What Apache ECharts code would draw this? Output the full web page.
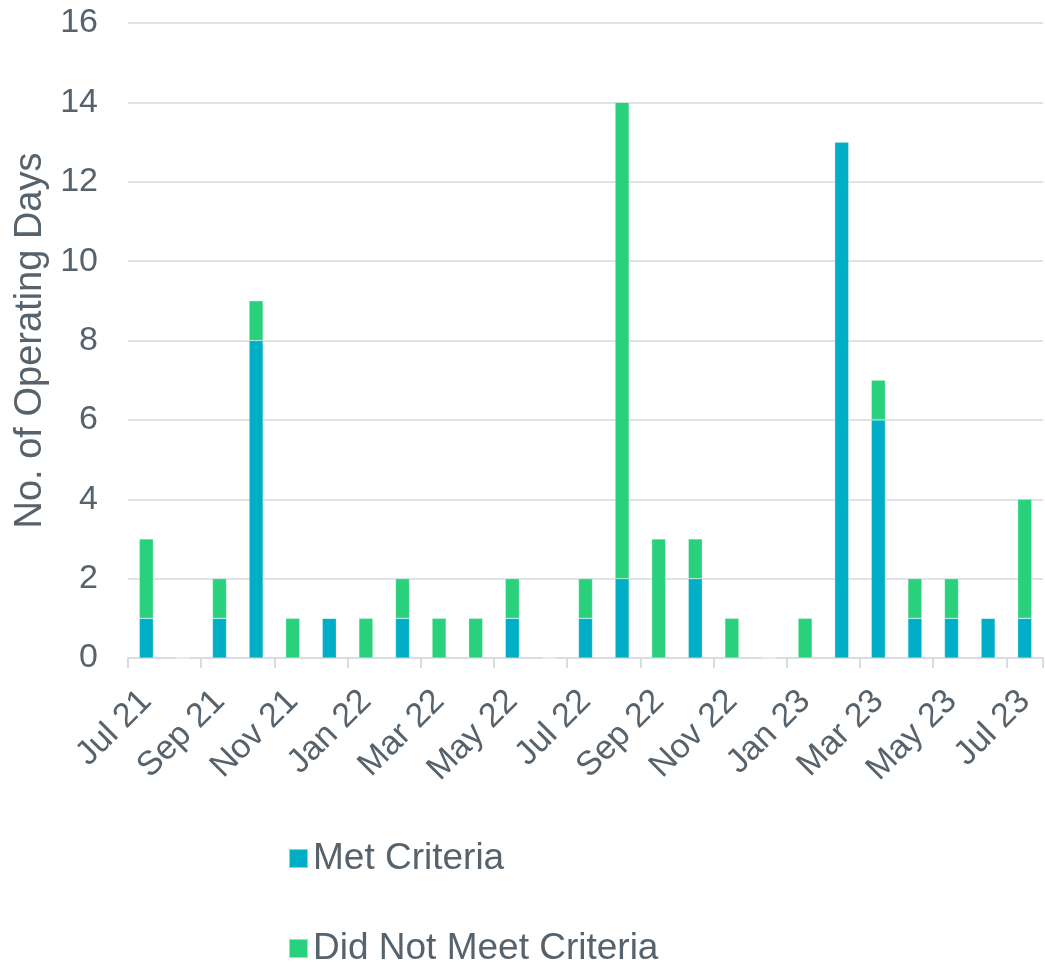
<!DOCTYPE html>
<html>
<head>
<meta charset="utf-8">
<script src="https://cdn.jsdelivr.net/npm/echarts@6/dist/echarts.min.js"></script>
<style>html,body{margin:0;padding:0;background:#fff}#c{width:1045px;height:963px}</style>
</head>
<body>
<div id="c"></div>
<script>
var categories = ['Jul 21','Aug 21','Sep 21','Oct 21','Nov 21','Dec 21','Jan 22','Feb 22','Mar 22','Apr 22','May 22','Jun 22','Jul 22','Aug 22','Sep 22','Oct 22','Nov 22','Dec 22','Jan 23','Feb 23','Mar 23','Apr 23','May 23','Jun 23','Jul 23'];
var metCriteria = [1,0,1,8,0,1,0,1,0,0,1,0,1,2,0,2,0,0,0,13,6,1,1,1,1];
var didNotMeet = [2,0,1,1,1,0,1,1,1,1,1,0,1,12,3,1,1,0,1,0,1,1,1,0,3];
var yTicks = {min:0, max:16, interval:2};

var textColor = '#56626c';
var font = 'Liberation Sans, Arial, sans-serif';
var legendBase = {
  orient:'vertical', left:283,
  itemWidth:19, itemHeight:19,
  icon:'rect',
  textStyle:{fontSize:37, color:textColor, fontFamily:font}
};
var chart = echarts.init(document.getElementById('c'));
chart.setOption({
  animation:false,
  textStyle:{fontFamily:font},
  grid:{left:128, right:2, top:23, bottom:305},
  legend:[
    Object.assign({}, legendBase, {top:835, data:['Met Criteria']}),
    Object.assign({}, legendBase, {top:925, data:['Did Not Meet Criteria']})
  ],
  xAxis:{
    type:'category', data:categories,
    axisLine:{lineStyle:{color:'#d9dde1', width:2}},
    axisTick:{show:true, length:10, lineStyle:{color:'#d9dde1', width:2}},
    axisLabel:{interval:1, rotate:45, fontSize:34, color:textColor, margin:38, fontFamily:font}
  },
  yAxis:{
    type:'value', min:yTicks.min, max:yTicks.max, interval:yTicks.interval,
    name:'No. of Operating Days', nameLocation:'middle', nameGap:78,
    nameTextStyle:{fontSize:38, color:textColor, fontFamily:font},
    axisLine:{show:false}, axisTick:{show:false},
    axisLabel:{fontSize:34, color:textColor, margin:30, fontFamily:font},
    splitLine:{lineStyle:{color:'#e0e3e6', width:2}}
  },
  series:[
    {name:'Met Criteria', type:'bar', stack:'a', data:metCriteria, barWidth:14,
     itemStyle:{color:'#00afc6', borderColor:'rgba(255,255,255,0.5)', borderWidth:0.5}},
    {name:'Did Not Meet Criteria', type:'bar', stack:'a', data:didNotMeet, barWidth:14,
     itemStyle:{color:'#29d17d', borderColor:'rgba(255,255,255,0.5)', borderWidth:0.5}}
  ]
});
</script>
</body>
</html>
